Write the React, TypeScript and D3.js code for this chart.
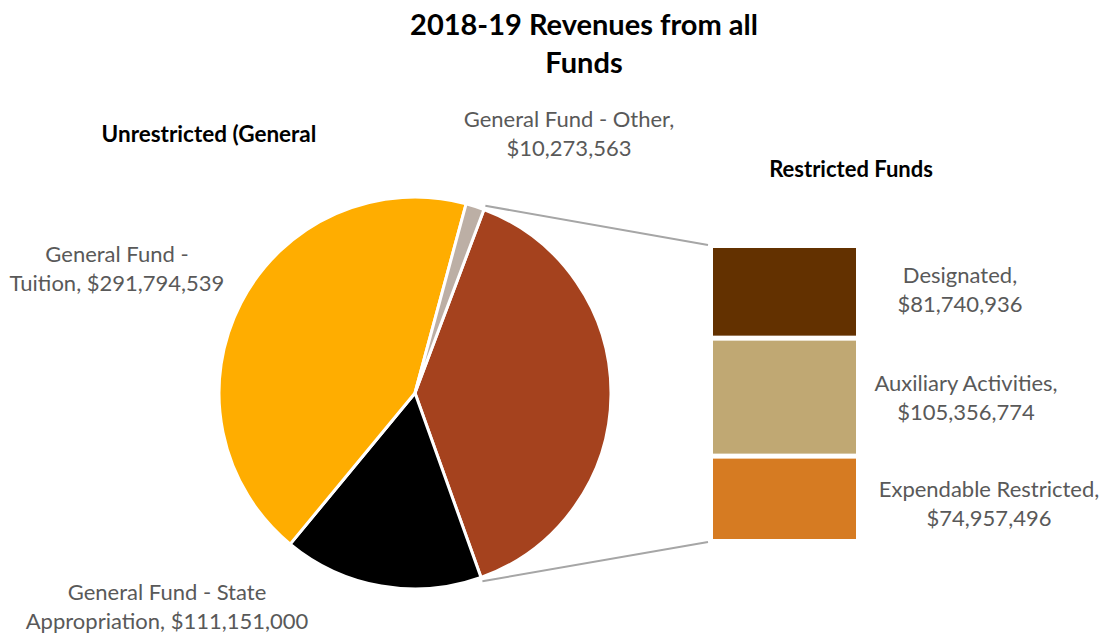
import * as d3 from 'd3';

const pieLabels = ['Restricted Funds', 'General Fund - State Appropriation', 'General Fund - Tuition', 'General Fund - Other'];
const pieValues = [262055206, 111151000, 291794539, 10273563];
const pieColors = ['#A5421E', '#000000', '#FFAD00', '#BCAFA5'];

const barLabels = ['Designated', 'Auxiliary Activities', 'Expendable Restricted'];
const barValues = [81740936, 105356774, 74957496];
const barColors = ['#633100', '#C0A873', '#D67B22'];

const W = 1106;
const H = 635;
const FONT = 'Lato, "Open Sans", sans-serif';
const fmt = d3.format('$,');

export default function App() {
  const cx = 415;
  const cy = 393;
  const r = 196;
  const start = (20.6 * Math.PI) / 180;

  const pie = d3.pie<number>().sort(null).value(d => d).startAngle(start).endAngle(start + 2 * Math.PI);
  const arcs = pie(pieValues);
  const arc = d3.arc<d3.PieArcDatum<number>>().innerRadius(0).outerRadius(r);

  // stacked bar (pie-of-bar)
  const barX = 713;
  const barW = 143;
  const barTop = 248;
  const barBottom = 539;
  const gap = 5;
  const total = d3.sum(barValues);
  const y = d3.scaleLinear().domain([0, total]).range([0, barBottom - barTop - gap * (barValues.length - 1)]);
  const cum = d3.cumsum(barValues);
  const segs = barValues.map((v, i) => {
    const y0 = barTop + y(cum[i] - v) + i * gap;
    const y1 = barTop + y(cum[i]) + i * gap;
    return { y0, y1, color: barColors[i] };
  });

  const rest = arcs[0];
  const pt = (a: number, rad: number) => [cx + rad * Math.sin(a), cy - rad * Math.cos(a)];
  const [tx, ty] = pt(rest.startAngle, r + 4);
  const [bx, by] = pt(rest.endAngle, r + 4);

  const barText = [
    { lines: [barLabels[0] + ',', fmt(barValues[0])], x: 960, y: 283 },
    { lines: [barLabels[1] + ',', fmt(barValues[1])], x: 966, y: 391 },
    { lines: [barLabels[2] + ',', fmt(barValues[2])], x: 989, y: 497 },
  ];
  const pieText = [
    { lines: ['General Fund -', 'Tuition, ' + fmt(pieValues[2])], x: 117, y: 262 },
    { lines: ['General Fund - Other,', fmt(pieValues[3])], x: 569, y: 127 },
    { lines: ['General Fund - State', 'Appropriation, ' + fmt(pieValues[1])], x: 167, y: 600 },
  ];

  return (
    <svg width={W} height={H} style={{ position: 'absolute', left: 0, top: 0, background: '#fff' }} fontFamily={FONT}>
      <text x={584} y={35} textAnchor="middle" fontSize={29} fontWeight="bold" fill="#000">2018-19 Revenues from all</text>
      <text x={584} y={73} textAnchor="middle" fontSize={29} fontWeight="bold" fill="#000">Funds</text>

      <text x={209} y={142} textAnchor="middle" fontSize={22.5} fontWeight="bold" fill="#000">Unrestricted (General</text>
      <text x={851} y={177} textAnchor="middle" fontSize={22} fontWeight="bold" fill="#000">Restricted Funds</text>

      <line x1={tx} y1={ty} x2={barX - 5} y2={barTop - 3} stroke="#A6A6A6" strokeWidth={2} />
      <line x1={bx} y1={by} x2={barX - 5} y2={barBottom + 3} stroke="#A6A6A6" strokeWidth={2} />

      <g transform={`translate(${cx},${cy})`}>
        {arcs.map((a, i) => (
          <path key={i} d={arc(a) || ''} fill={pieColors[i]} stroke="#fff" strokeWidth={3} strokeLinejoin="round" />
        ))}
      </g>

      {segs.map((s, i) => (
        <rect key={i} x={barX} y={s.y0} width={barW} height={s.y1 - s.y0} fill={s.color} />
      ))}

      {[...pieText, ...barText].map((t, i) => (
        <text key={i} textAnchor="middle" fontSize={22} fill="#595959">
          {t.lines.map((l, j) => (
            <tspan key={j} x={t.x} y={t.y + j * 29}>{l}</tspan>
          ))}
        </text>
      ))}
    </svg>
  );
}
